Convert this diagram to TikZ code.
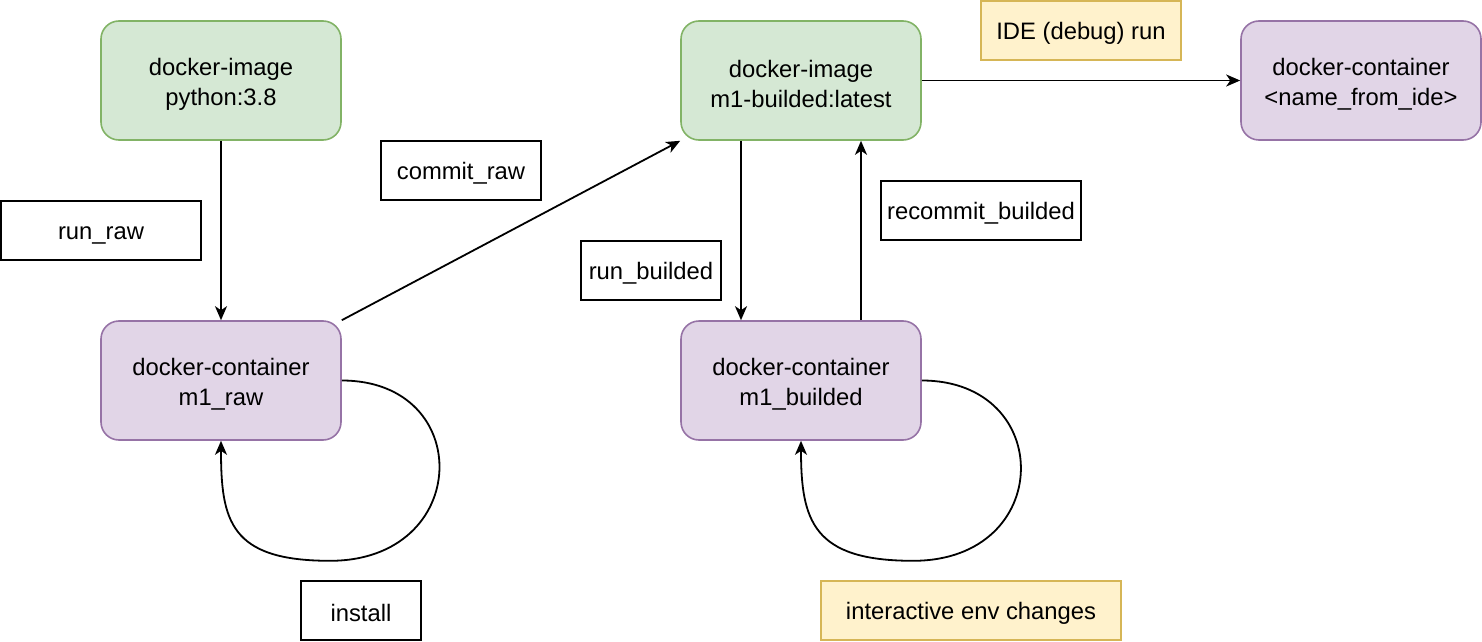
\documentclass[tikz,border=0pt]{standalone}
\usepackage{fontspec}
\setmainfont{Liberation Sans}
\usetikzlibrary{arrows.meta,calc}
\definecolor{gfill}{HTML}{D5E8D4}
\definecolor{gline}{HTML}{82B366}
\definecolor{pfill}{HTML}{E1D5E7}
\definecolor{pline}{HTML}{9673A6}
\definecolor{yfill}{HTML}{FFF2CC}
\definecolor{yline}{HTML}{D6B656}
\newcommand{\tstrut}{\rule{0pt}{12.6pt}}
\tikzset{
  txt/.style={font=\fontsize{11.9}{15}\selectfont, align=center, inner sep=0pt},
  bigbox/.style={txt, rounded corners=9pt, minimum width=120pt, minimum height=59.5pt, line width=0.8pt},
  imgbox/.style={bigbox, draw=gline, fill=gfill},
  contbox/.style={bigbox, draw=pline, fill=pfill},
  lblbox/.style={txt, draw=black, fill=white, line width=0.8pt, minimum height=29.5pt,
    execute at begin node={\rule{0pt}{11.6pt}}},
  notebox/.style={txt, draw=yline, fill=yfill, line width=0.8pt, minimum height=29.5pt,
    execute at begin node={\rule{0pt}{11.6pt}}},
  arr/.style={-{Stealth[length=7pt,width=6pt,inset=2pt]}, line width=0.9pt}
}
\begin{document}
\begin{tikzpicture}[x=0.5pt,y=-0.5pt]
\useasboundingbox (0,0) rectangle (1482,642);
% main nodes
\node[imgbox] (img1) at (221,80.5) {\tstrut docker-image\\python:3.8};
\node[contbox] (cont1) at (221,380.5) {\tstrut docker-container\\m1\_raw};
\node[imgbox] (img2) at (801,80.5) {\tstrut docker-image\\m1-builded:latest};
\node[contbox] (cont2) at (801,380.5) {\tstrut docker-container\\m1\_builded};
\node[contbox] (cont3) at (1361,80.5) {\tstrut docker-container\\<name\_from\_ide>};
% labels
\node[lblbox, minimum width=100pt] (lrunraw) at (101,230.5) {run\_raw};
\node[lblbox, minimum width=80pt] (lcommit) at (461,170.5) {commit\_raw};
\node[lblbox, minimum width=70pt] (lrunb) at (651,270.5) {run\_builded};
\node[lblbox, minimum width=100pt] (lrecommit) at (981,210.5) {recommit\_builded};
\node[lblbox, minimum width=60pt] (linstall) at (361,610.5) {install};
\node[notebox, minimum width=100pt] (lide) at (1081,30.5) {IDE (debug) run};
\node[notebox, minimum width=150pt] (linter) at (971,610.5) {interactive env changes};
% connectors
\draw[arr] (img1.south) -- (cont1.north);
\draw[arr] (cont1.north east) -- (img2.south west);
\draw[arr] ([xshift=-30pt]img2.south) -- ([xshift=-30pt]cont2.north);
\draw[arr] ([xshift=30pt]cont2.north) -- ([xshift=30pt]img2.south);
\draw[arr] (img2.east) -- (cont3.west);
\draw[arr] (cont1.east) .. controls +(134,0) and +(142,0) .. ($(cont1.south)+(109,120)$)
  .. controls +(-100,0) and +(0,80) .. (cont1.south);
\draw[arr] (cont2.east) .. controls +(134,0) and +(142,0) .. ($(cont2.south)+(112,120)$)
  .. controls +(-100,0) and +(0,80) .. (cont2.south);
\end{tikzpicture}
\end{document}
